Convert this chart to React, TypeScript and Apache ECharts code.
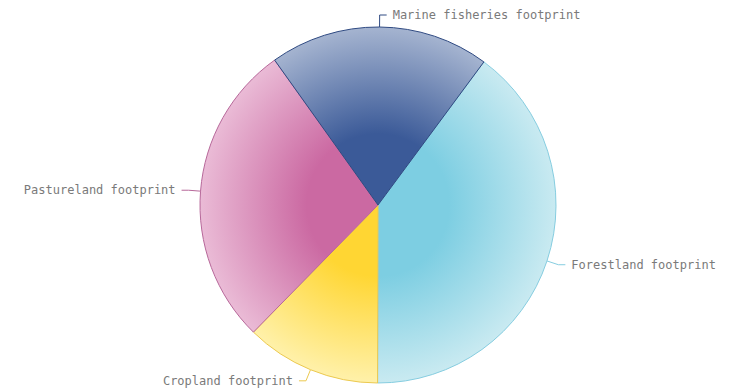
import React, { useEffect, useRef } from "react";
import * as echarts from "echarts";

// Footprint shares (percent of total), drawn clockwise from Forestland
const categories = [
  "Forestland footprint",
  "Cropland footprint",
  "Pastureland footprint",
  "Marine fisheries footprint",
];
const shares = [39.9, 12.3, 27.8, 20.0];

// Saturated (inner) and pale (outer) tones per slice, plus outline colour
const innerColors = ["#7dcee2", "#ffd633", "#cb69a2", "#3b5a98"];
const outerColors = ["#c9eaf1", "#fff1aa", "#eabbd6", "#a5b4d0"];
const borderColors = ["#86cde0", "#ecc94f", "#b7689a", "#2f4a82"];

const CX = 378;
const CY = 205;
const R = 178;

export default function App() {
  const ref = useRef<HTMLDivElement>(null);

  useEffect(() => {
    if (!ref.current) return;
    const chart = echarts.init(ref.current, undefined, { renderer: "svg" });

    const data = categories.map((name, i) => ({
      name,
      value: shares[i],
      itemStyle: {
        color: {
          type: "radial",
          x: CX,
          y: CY,
          r: R,
          global: true,
          colorStops: [
            { offset: 0, color: innerColors[i] },
            { offset: 0.4, color: innerColors[i] },
            { offset: 1, color: outerColors[i] },
          ],
        },
        borderColor: borderColors[i],
        borderWidth: 1,
      },
      labelLine: { lineStyle: { color: borderColors[i] } },
    }));

    chart.setOption({
      animation: false,
      backgroundColor: "#ffffff",
      series: [
        {
          type: "pie",
          center: [CX, CY],
          radius: R,
          startAngle: 53.5,
          clockwise: true,
          avoidLabelOverlap: false,
          data,
          label: {
            show: true,
            color: "#7a7a7a",
            fontFamily: "DejaVu Sans Mono",
            fontSize: 12,
            distanceToLabelLine: 6,
          },
          labelLine: {
            show: true,
            length: 12,
            length2: 7,
            lineStyle: { width: 1 },
          },
          emphasis: { disabled: true },
        },
      ],
    });

    return () => chart.dispose();
  }, []);

  return (
    <div
      ref={ref}
      style={{ position: "fixed", left: 0, top: 0, width: 730, height: 388 }}
    />
  );
}
